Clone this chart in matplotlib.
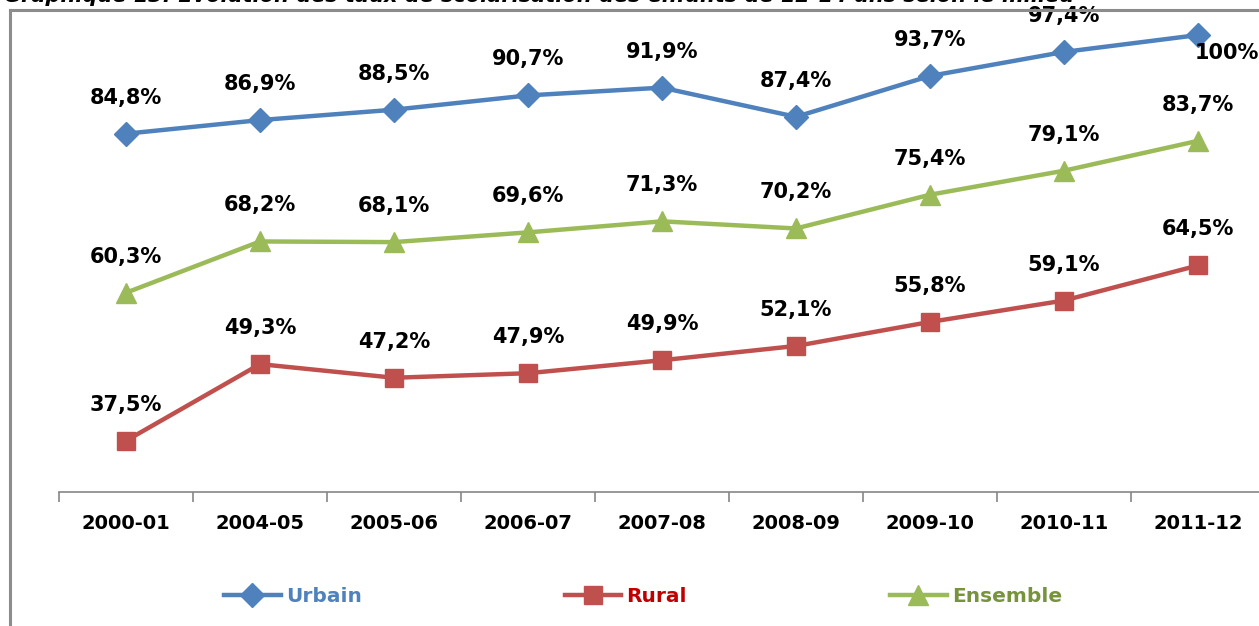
import matplotlib
matplotlib.use("Agg")
import matplotlib.pyplot as plt
from matplotlib.lines import Line2D

# ── 데이터 ────────────────────────────────────────────────────────────────────
years = ["2000-01", "2004-05", "2005-06", "2006-07", "2007-08",
         "2008-09", "2009-10", "2010-11", "2011-12"]
urbain = [84.8, 86.9, 88.5, 90.7, 91.9, 87.4, 93.7, 97.4, 100.0]
rural = [37.5, 49.3, 47.2, 47.9, 49.9, 52.1, 55.8, 59.1, 64.5]
ensemble = [60.3, 68.2, 68.1, 69.6, 71.3, 70.2, 75.4, 79.1, 83.7]

title = ("Graphique 13: Evolution des taux de scolarisation des enfants "
         "de 12-14 ans selon le milieu")

BLUE, RED, GREEN = "#4F81BD", "#C0504D", "#9BBB59"
TXT_COLORS = ["#4F81BD", "#C00000", "#77933C"]

W, H = 1259, 626
fig = plt.figure(figsize=(W / 100, H / 100), dpi=100)

# axes: x axis at y=492 px, first tick boundary at x=59, 134 px per category
left = 59 / W
width = 9 * 134 / W
bottom = (H - 492) / H
ax = fig.add_axes([left, bottom, width, 1 - bottom])
ax.set_xlim(-0.5, 8.5)
ax.set_ylim(29.6, 105.4)

x = list(range(len(years)))
series = [
    ("Urbain", urbain, BLUE, "D", 12),
    ("Rural", rural, RED, "s", 13),
    ("Ensemble", ensemble, GREEN, "^", 14),
]
handles = []
for name, vals, col, mk, ms in series:
    h, = ax.plot(x, vals, color=col, lw=3.2, marker=mk, ms=ms,
                 markeredgecolor=col, label=name, clip_on=False, zorder=3)
    handles.append(h)
    for i, v in enumerate(vals):
        lbl = f"{v:.1f}".replace(".", ",") + "%"
        if v == 100.0:
            ax.annotate("100%", (i, v), xytext=(29, -18), textcoords="offset pixels",
                        ha="center", va="center", fontsize=15, fontweight="bold")
        else:
            ax.annotate(lbl, (i, v), xytext=(0, 36), textcoords="offset pixels",
                        ha="center", va="center", fontsize=15, fontweight="bold")

for s in ["top", "right", "left"]:
    ax.spines[s].set_visible(False)
ax.spines["bottom"].set_color("#868686")
ax.spines["bottom"].set_linewidth(1.2)
ax.set_yticks([])
ax.set_xticks([i - 0.5 for i in range(len(years) + 1)])
ax.set_xticklabels([])
ax.tick_params(axis="x", length=7, color="#868686", width=1.2)
for i, yr in enumerate(years):
    ax.text(i, -0.065, yr, transform=ax.get_xaxis_transform(), ha="center",
            va="center", fontsize=14, fontweight="bold")

fig.legend(handles=handles, loc="center", bbox_to_anchor=(643 / W, 1 - 597 / H),
           ncol=3, frameon=False, handlelength=2.8, handletextpad=0.25,
           columnspacing=10.1, labelcolor=TXT_COLORS,
           prop={"weight": "bold", "size": 14.5})

# frame (partly outside the picture)
fig.add_artist(Line2D([10 / W, 10 / W], [0, 1 - 10 / H], color="#8C8C8C", lw=2.2,
                      transform=fig.transFigure))
fig.add_artist(Line2D([10 / W, 1], [1 - 10 / H, 1 - 10 / H], color="#8C8C8C", lw=2.2,
                      transform=fig.transFigure))

# title, clipped at the top as in the source picture
fig.text(4 / W, 1 - 2 / H, title, ha="left", va="baseline", fontsize=15,
         fontweight="bold", fontstyle="italic")

fig.savefig("out.png", dpi=100)
